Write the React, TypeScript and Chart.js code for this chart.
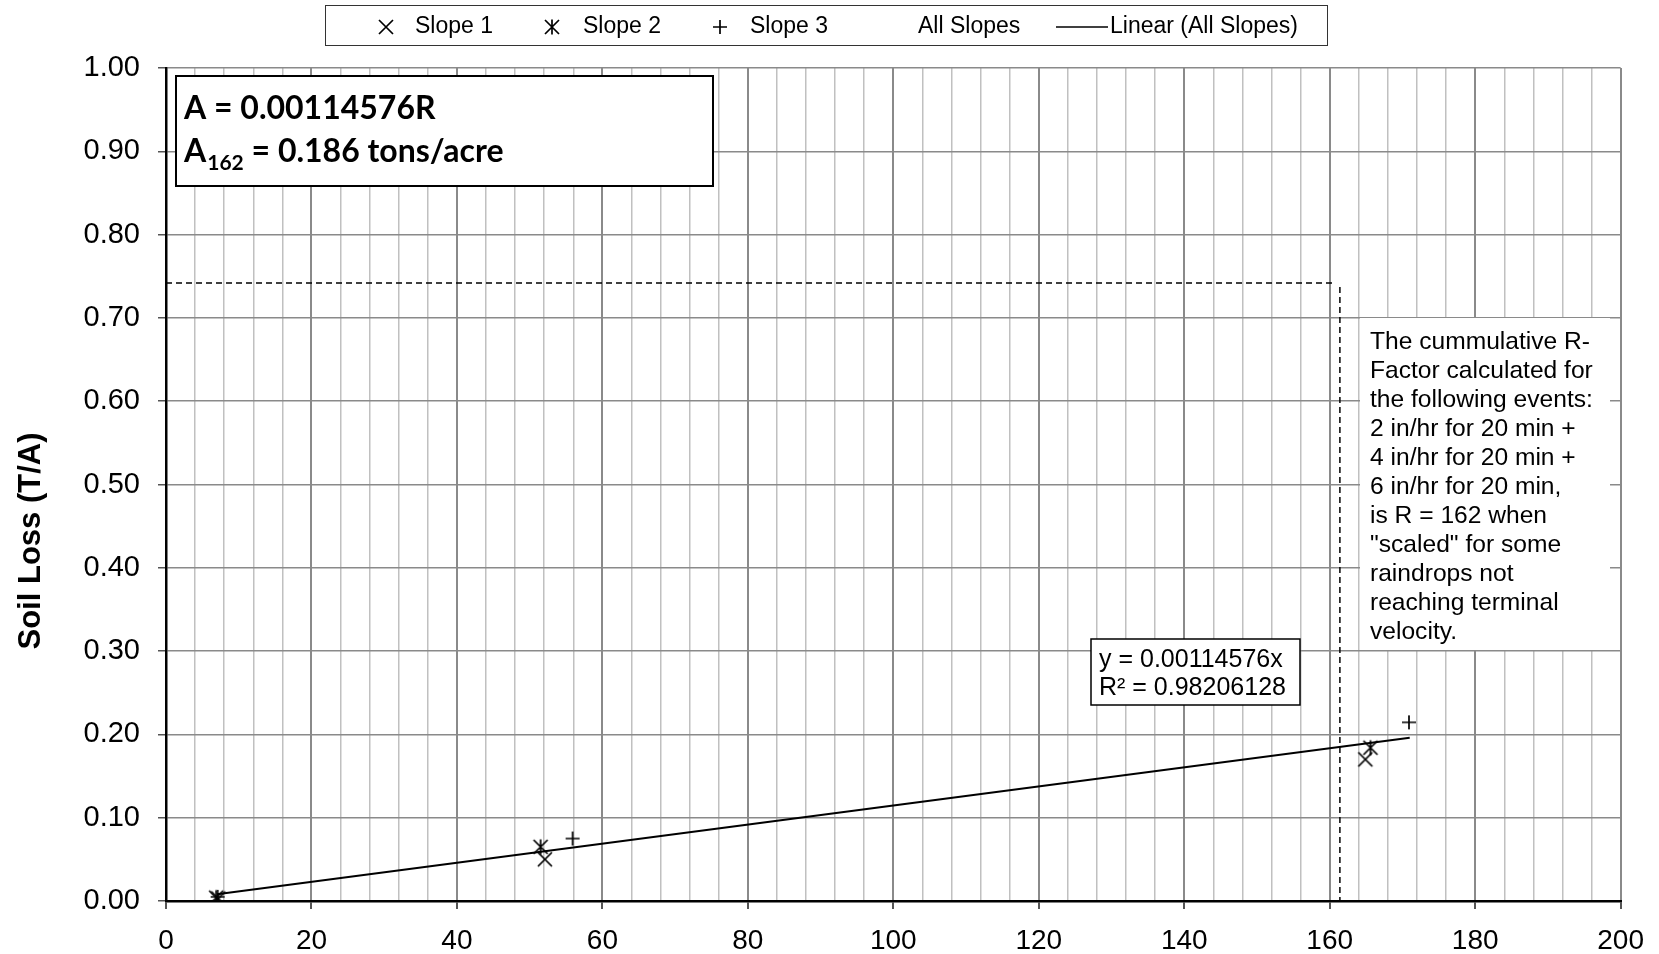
import React, { useEffect, useRef } from 'react';
import { Chart, registerables } from 'chart.js';

Chart.register(...registerables);

// ---- Data ----
const slope1 = [
  { x: 7.2, y: 0.003 },
  { x: 52.1, y: 0.05 },
  { x: 164.9, y: 0.17 },
];
const slope2 = [
  { x: 6.9, y: 0.004 },
  { x: 51.5, y: 0.065 },
  { x: 165.6, y: 0.184 },
];
const slope3 = [
  { x: 7.1, y: 0.005 },
  { x: 55.9, y: 0.075 },
  { x: 170.9, y: 0.2145 },
];
const trendLine = [
  { x: 7, y: 0.008 },
  { x: 171, y: 0.1959 },
];
const guideH = [
  { x: 0, y: 0.742 },
  { x: 160.7, y: 0.742 },
];
const guideV = [
  { x: 161.4, y: 0.737 },
  { x: 161.4, y: 0 },
];
const xMin = 0;
const xMax = 200;
const xMinorStep = 4;
const xMajorStep = 20;
const yMin = 0;
const yMax = 1;
const yStep = 0.1;

const legendLabels = ['Slope 1', 'Slope 2', 'Slope 3', 'All Slopes', 'Linear (All Slopes)'];
const boxLine1 = 'A = 0.00114576R';
const boxLine2Sub = '162';
const boxLine2Rest = ' = 0.186 tons/acre';
const eqLines = ['y = 0.00114576x', 'R² = 0.98206128'];
const noteLines = [
  'The cummulative R-',
  'Factor calculated for',
  'the following events:',
  '2 in/hr for 20 min +',
  '4 in/hr for 20 min +',
  '6 in/hr for 20 min,',
  'is R = 162 when',
  '"scaled" for some',
  'raindrops not',
  'reaching terminal',
  'velocity.',
];
const yTitle = 'Soil Loss (T/A)';

const ARIAL = '"Liberation Sans", Arial, sans-serif';

function makeMarker(kind: string): HTMLCanvasElement {
  const c = document.createElement('canvas');
  c.width = 18;
  c.height = 18;
  const g = c.getContext('2d')!;
  g.strokeStyle = '#000';
  g.lineWidth = 1.7;
  g.beginPath();
  if (kind === 'x' || kind === 'star') {
    g.moveTo(2, 2);
    g.lineTo(16, 16);
    g.moveTo(16, 2);
    g.lineTo(2, 16);
  }
  if (kind === 'star') {
    g.moveTo(9, 1.5);
    g.lineTo(9, 16.5);
  }
  if (kind === 'plus') {
    g.moveTo(9, 2);
    g.lineTo(9, 16);
    g.moveTo(2, 9);
    g.lineTo(16, 9);
  }
  g.stroke();
  return c;
}

function isMajor(v: number) {
  return Math.abs(v / xMajorStep - Math.round(v / xMajorStep)) < 1e-6;
}

export default function App() {
  const ref = useRef<HTMLCanvasElement>(null);

  useEffect(() => {
    const canvas = ref.current!;
    const mX = makeMarker('x');
    const mStar = makeMarker('star');
    const mPlus = makeMarker('plus');

    const overlay = {
      id: 'overlay',
      afterDraw(chart: any) {
        const ctx = chart.ctx as CanvasRenderingContext2D;
        ctx.save();

        // Legend box
        ctx.fillStyle = '#fff';
        ctx.fillRect(325, 5, 1002, 40);
        ctx.strokeStyle = '#333';
        ctx.lineWidth = 1;
        ctx.strokeRect(325.5, 5.5, 1002, 40);
        ctx.fillStyle = '#000';
        ctx.font = `23px ${ARIAL}`;
        ctx.textBaseline = 'middle';
        const ly = 27;
        ctx.drawImage(mX, 386 - 9, ly - 9);
        ctx.fillText(legendLabels[0], 415, ly);
        ctx.drawImage(mStar, 552 - 9, ly - 9);
        ctx.fillText(legendLabels[1], 583, ly);
        ctx.drawImage(mPlus, 720 - 9, ly - 9);
        ctx.fillText(legendLabels[2], 750, ly);
        ctx.fillText(legendLabels[3], 918, ly);
        ctx.strokeStyle = '#000';
        ctx.lineWidth = 1.5;
        ctx.beginPath();
        ctx.moveTo(1056, ly);
        ctx.lineTo(1108, ly);
        ctx.stroke();
        ctx.fillText(legendLabels[4], 1110, ly);

        // Y axis title
        ctx.save();
        ctx.translate(31, 541);
        ctx.rotate(-Math.PI / 2);
        ctx.font = `bold 31px ${ARIAL}`;
        ctx.textAlign = 'center';
        ctx.textBaseline = 'middle';
        ctx.fillText(yTitle, 0, 0);
        ctx.restore();

        // Top-left formula box
        ctx.fillStyle = '#fff';
        ctx.fillRect(176, 76, 537, 110);
        ctx.strokeStyle = '#000';
        ctx.lineWidth = 2;
        ctx.strokeRect(176, 76, 537, 110);
        ctx.fillStyle = '#000';
        ctx.textBaseline = 'alphabetic';
        ctx.textAlign = 'left';
        ctx.font = `bold 32px Lato, sans-serif`;
        ctx.fillText(boxLine1, 184, 119);
        ctx.fillText('A', 184, 162);
        let xx = 184 + ctx.measureText('A').width + 1;
        ctx.font = `bold 21px Lato, sans-serif`;
        ctx.fillText(boxLine2Sub, xx, 170);
        xx += ctx.measureText(boxLine2Sub).width;
        ctx.font = `bold 32px Lato, sans-serif`;
        ctx.fillText(boxLine2Rest, xx, 162);

        // Trendline equation box
        ctx.fillStyle = '#fff';
        ctx.fillRect(1091, 639, 209, 66);
        ctx.strokeStyle = '#000';
        ctx.lineWidth = 1.5;
        ctx.strokeRect(1091, 639, 209, 66);
        ctx.fillStyle = '#000';
        ctx.font = `25px ${ARIAL}`;
        ctx.fillText(eqLines[0], 1099, 667);
        ctx.fillText(eqLines[1], 1099, 695);

        // Note box
        ctx.fillStyle = '#fff';
        ctx.fillRect(1360, 318, 250, 332);
        ctx.fillStyle = '#000';
        ctx.font = `24.6px ${ARIAL}`;
        noteLines.forEach((t, i) => ctx.fillText(t, 1370, 349 + i * 29));

        ctx.restore();
      },
    };

    const chart = new Chart(canvas, {
      type: 'scatter',
      data: {
        datasets: [
          {
            label: 'Slope 1',
            data: slope1,
            pointStyle: mX as any,
            pointRadius: 9,
            borderColor: '#000',
            backgroundColor: '#000',
          },
          {
            label: 'Slope 2',
            data: slope2,
            pointStyle: mStar as any,
            pointRadius: 9,
            borderColor: '#000',
            backgroundColor: '#000',
          },
          {
            label: 'Slope 3',
            data: slope3,
            pointStyle: mPlus as any,
            pointRadius: 9,
            borderColor: '#000',
            backgroundColor: '#000',
          },
          {
            label: 'All Slopes',
            data: [...slope1, ...slope2, ...slope3],
            pointRadius: 0,
            borderColor: 'transparent',
            backgroundColor: 'transparent',
          },
          {
            label: 'Linear (All Slopes)',
            data: trendLine,
            showLine: true,
            pointRadius: 0,
            borderColor: '#000',
            borderWidth: 2,
          },
          {
            label: 'guideH',
            data: guideH,
            showLine: true,
            pointRadius: 0,
            borderColor: '#000',
            borderWidth: 1.5,
            borderDash: [6, 4],
          },
          {
            label: 'guideV',
            data: guideV,
            showLine: true,
            pointRadius: 0,
            borderColor: '#000',
            borderWidth: 1.5,
            borderDash: [6, 4],
          },
        ] as any,
      },
      options: {
        animation: false,
        responsive: false,
        maintainAspectRatio: false,
        layout: { padding: { left: 0, right: 38, top: 68, bottom: 0 } },
        plugins: {
          legend: { display: false },
          title: { display: false },
          tooltip: { enabled: false },
        },
        scales: {
          x: {
            type: 'linear',
            min: xMin,
            max: xMax,
            afterFit: (s: any) => {
              s.height = 53;
            },
            border: { display: true, color: '#000', width: 2.5 },
            grid: {
              color: (c: any) => (c.tick && isMajor(c.tick.value) ? '#8a8a8a' : '#c0c0c0'),
              lineWidth: (c: any) => (c.tick && isMajor(c.tick.value) ? 2 : 1.5),
              tickColor: (c: any) => (c.tick && isMajor(c.tick.value) ? '#555' : 'rgba(0,0,0,0)'),
              tickLength: 8,
            },
            ticks: {
              stepSize: xMinorStep,
              autoSkip: false,
              maxRotation: 0,
              minRotation: 0,
              padding: 15,
              color: '#000',
              font: { family: ARIAL, size: 28 },
              callback: (v: any) => (isMajor(Number(v)) ? String(v) : ''),
            },
          },
          y: {
            type: 'linear',
            min: yMin,
            max: yMax,
            afterFit: (s: any) => {
              s.width = 166;
            },
            border: { display: true, color: '#000', width: 2.5 },
            grid: {
              color: '#8a8a8a',
              lineWidth: 1.5,
              tickColor: '#555',
              tickLength: 8,
            },
            ticks: {
              stepSize: yStep,
              padding: 18,
              color: '#000',
              font: { family: ARIAL, size: 29 },
              callback: (v: any) => Number(v).toFixed(2),
            },
          },
        },
      },
      plugins: [overlay],
    });

    return () => chart.destroy();
  }, []);

  return (
    <div style={{ position: 'fixed', left: 0, top: 0, width: 1659, height: 954, background: '#fff' }}>
      <canvas ref={ref} width={1659} height={954} style={{ display: 'block' }} />
    </div>
  );
}
